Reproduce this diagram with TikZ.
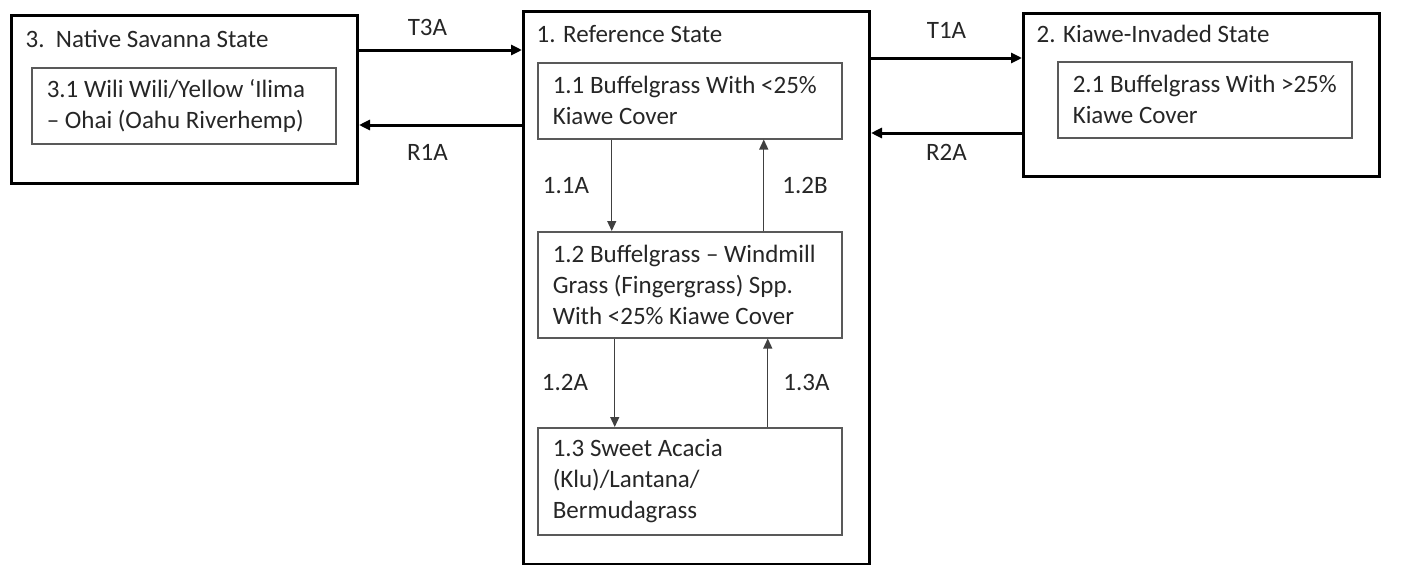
\documentclass[tikz,border=0pt]{standalone}
\usepackage{fontspec}
\setmainfont{Carlito}
\usetikzlibrary{arrows.meta}
\tikzset{
  every picture/.style={line width=1.2pt},
  statebox/.style={draw, line width=3pt, anchor=north west, inner sep=0pt},
  phasebox/.style={draw=black!65, line width=1.5pt, anchor=north west, align=flush left,
    inner xsep=15pt, inner ysep=0pt},
  bigarrow/.style={-{Triangle[length=11pt,width=10pt]}, line width=3pt},
  smallarrow/.style={-{Triangle[length=10pt,width=9pt]}, line width=1.3pt, draw=black!75},
}

\begin{document}
\begin{tikzpicture}[x=1pt, y=-1pt, every node/.style={font=\fontsize{25}{31}\selectfont, text=black!85}]
  \useasboundingbox (0,0) rectangle (1401,565);
  % states
  \node[statebox, minimum width=346, minimum height=168] (s3) at (10,14) {};
  \node[statebox, minimum width=346, minimum height=553] (s1) at (522,10) {};
  \node[statebox, minimum width=356, minimum height=163] (s2) at (1022,12) {};
  \node[anchor=base west, inner sep=0pt] (t3) at ([xshift=15pt, yshift=-33pt]s3.north west) {3.\ \ Native Savanna State};
  \node[anchor=base west, inner sep=0pt] (t1) at ([xshift=14pt, yshift=-32pt]s1.north west) {1. Reference State};
  \node[anchor=base west, inner sep=0pt] (t2) at ([xshift=14pt, yshift=-30pt]s2.north west) {2. Kiawe-Invaded State};
  % community phases
  \node[phasebox, text width=274pt, minimum height=76] (p31) at (31,67)
    {3.1 Wili Wili/Yellow ‘Ilima\\-- Ohai (Oahu Riverhemp)};
  \node[phasebox, text width=274pt, minimum height=76] (p11) at (537,62)
    {1.1 Buffelgrass With <25\%\\Kiawe Cover};
  \node[phasebox, text width=274pt, minimum height=106] (p12) at (537,231)
    {1.2 Buffelgrass -- Windmill\\Grass (Fingergrass) Spp.\\With <25\% Kiawe Cover};
  \node[phasebox, text width=274pt, minimum height=107] (p13) at (537,427)
    {1.3 Sweet Acacia\\(Klu)/Lantana/\\Bermudagrass};
  \node[phasebox, text width=264pt, minimum height=76] (p21) at (1057,61)
    {2.1~Buffelgrass~With~>25\%\\Kiawe Cover};
  % transitions between states
  \draw[bigarrow] ([yshift=-36pt]s3.north east) -- ([yshift=-36pt]s3.north east -| s1.west)
    node[pos=0.42, above=13pt, inner sep=0pt] (lt3) {T3A};
  \draw[bigarrow] ([yshift=-111pt]s3.north east -| s1.west) -- ([yshift=-111pt]s3.north east)
    node[pos=0.58, below=18pt, inner sep=0pt] (lr1) {R1A};
  \draw[bigarrow] ([yshift=-46pt]s2.north west -| s1.east) -- ([yshift=-46pt]s2.north west)
    node[midway, above=18pt, inner sep=0pt] (lt1) {T1A};
  \draw[bigarrow] ([yshift=-121pt]s2.north west) -- ([yshift=-121pt]s2.north west -| s1.east)
    node[midway, below=10pt, inner sep=0pt] (lr2) {R2A};
  % pathways within the reference state
  \draw[smallarrow] ([xshift=-78pt]p11.south) -- ([xshift=-78pt]p11.south |- p12.north)
    node[midway, left=22pt, inner sep=0pt] (l11a) {1.1A};
  \draw[smallarrow] ([xshift=74pt]p12.north) -- ([xshift=74pt]p12.north |- p11.south)
    node[midway, right=18pt, inner sep=0pt] (l12b) {1.2B};
  \draw[smallarrow] ([xshift=-75pt]p12.south) -- ([xshift=-75pt]p12.south |- p13.north)
    node[midway, left=26pt, inner sep=0pt] (l12a) {1.2A};
  \draw[smallarrow] ([xshift=78pt]p13.north) -- ([xshift=78pt]p13.north |- p12.south)
    node[midway, right=15pt, inner sep=0pt] (l13a) {1.3A};
\end{tikzpicture}
\end{document}
